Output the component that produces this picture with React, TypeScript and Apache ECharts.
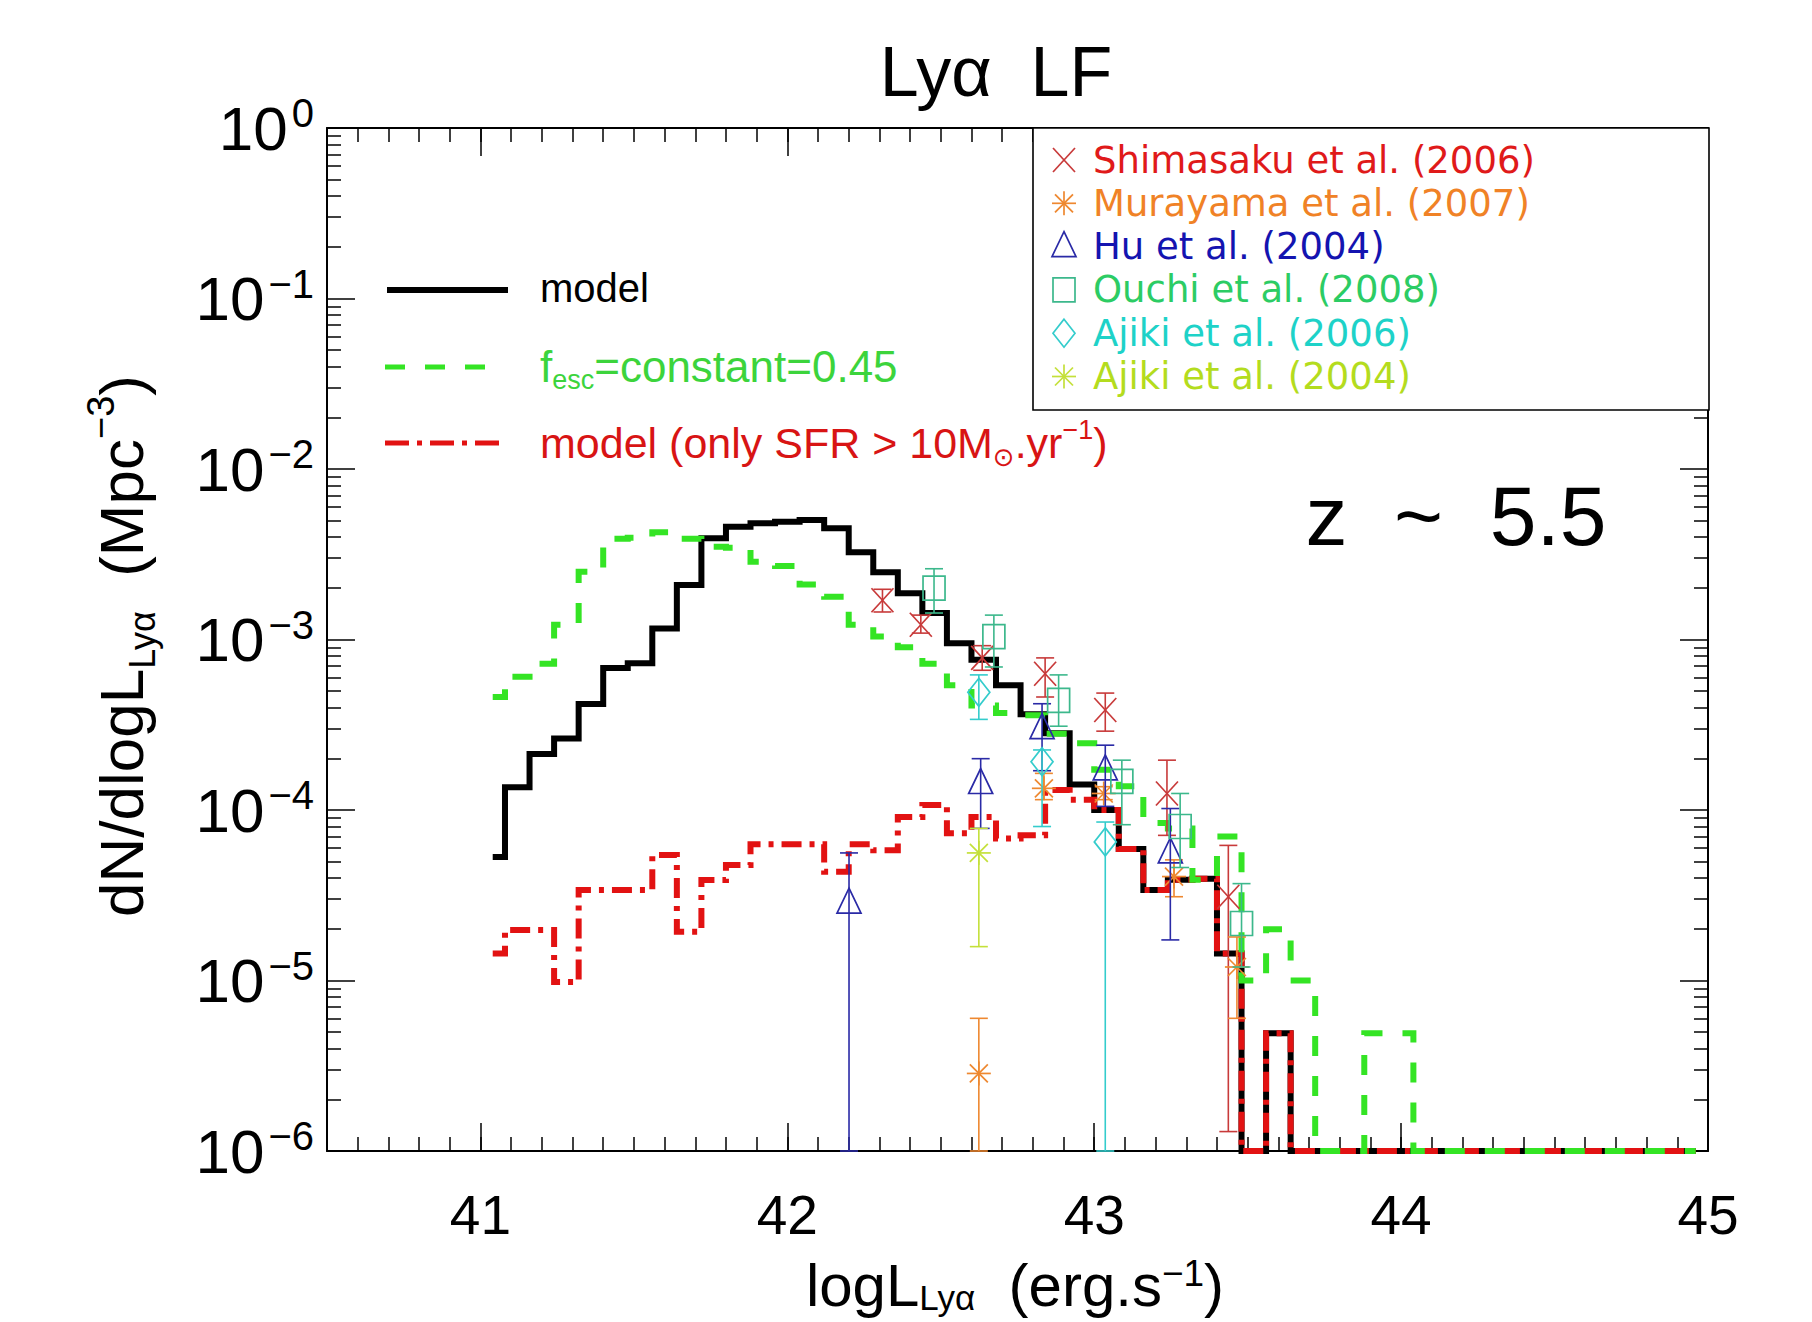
import React, { useEffect, useRef } from "react";
import * as echarts from "echarts";

const FONT = "'Liberation Sans', 'DejaVu Sans', sans-serif";
const FONT_LEG = "'DejaVu Sans', 'Liberation Sans', sans-serif";
const W = 1812;
const H = 1322;

// bin centres (log L_Lya) of the model luminosity functions
const logL = [41.04, 41.12, 41.20, 41.28, 41.36, 41.44, 41.52, 41.60, 41.68, 41.76,
  41.84, 41.92, 42.00, 42.08, 42.16, 42.24, 42.32, 42.40, 42.48, 42.56,
  42.64, 42.72, 42.80, 42.88, 42.96, 43.04, 43.12, 43.20, 43.28, 43.36,
  43.44, 43.52, 43.60, 43.68, 43.76, 43.84, 43.92, 44.00, 44.08, 44.16,
  44.24, 44.32, 44.40, 44.48, 44.56, 44.64, 44.72, 44.80, 44.88, 44.96];

// model (black solid)
const modelLF = [5.3e-5, 1.36e-4, 2.13e-4, 2.63e-4, 4.18e-4, 6.8e-4, 7.25e-4, 1.16e-3, 2.09e-3, 3.92e-3,
  4.59e-3, 4.8e-3, 4.91e-3, 5.02e-3, 4.49e-3, 3.25e-3, 2.48e-3, 1.87e-3, 1.43e-3, 9.5e-4,
  7.6e-4, 5.4e-4, 3.65e-4, 2.82e-4, 1.41e-4, 1.0e-4, 5.9e-5, 3.4e-5, 3.9e-5, 3.95e-5,
  1.44e-5, 1e-6, 4.9e-6, 1e-6, 1e-6, 1e-6, 1e-6, 1e-6, 1e-6, 1e-6,
  1e-6, 1e-6, 1e-6, 1e-6, 1e-6, 1e-6, 1e-6, 1e-6, 1e-6, 1e-6];

// f_esc = constant = 0.45 (green dashed)
const fescLF = [4.6e-4, 6.05e-4, 7.2e-4, 1.22e-3, 2.5e-3, 3.9e-3, 3.95e-3, 4.25e-3, 3.9e-3, 3.5e-3,
  3.45e-3, 2.86e-3, 2.7e-3, 2.1e-3, 1.78e-3, 1.22e-3, 1.04e-3, 9.0e-4, 7.2e-4, 5.4e-4,
  4.1e-4, 3.7e-4, 3.6e-4, 2.8e-4, 2.46e-4, 1.72e-4, 1.38e-4, 8.4e-5, 7.8e-5, 3.9e-5,
  7.0e-5, 1.0e-5, 2.0e-5, 1.0e-5, 1e-6, 1e-6, 4.9e-6, 4.9e-6, 1e-6, 1e-6,
  1e-6, 1e-6, 1e-6, 1e-6, 1e-6, 1e-6, 1e-6, 1e-6, 1e-6, 1e-6];

// model, only SFR > 10 Msun/yr (red dash-dot)
const sfrLF = [1.44e-5, 1.98e-5, 1.98e-5, 9.8e-6, 3.4e-5, 3.4e-5, 3.4e-5, 5.45e-5, 1.93e-5, 3.88e-5,
  4.75e-5, 6.3e-5, 6.3e-5, 6.3e-5, 4.35e-5, 6.3e-5, 5.8e-5, 9.1e-5, 1.07e-4, 7.3e-5,
  9.1e-5, 6.8e-5, 7.1e-5, 1.31e-4, 1.15e-4, 1.0e-4, 5.9e-5, 3.4e-5, 3.9e-5, 3.95e-5,
  1.44e-5, 1e-6, 4.9e-6, 1e-6, 1e-6, 1e-6, 1e-6, 1e-6, 1e-6, 1e-6,
  1e-6, 1e-6, 1e-6, 1e-6, 1e-6, 1e-6, 1e-6, 1e-6, 1e-6, 1e-6];

// observations: [logL, phi, phi_low, phi_high]
const shimasaku2006 = [[42.31, 1.7e-3, 1.45e-3, 1.97e-3], [42.435, 1.22e-3, 1.09e-3, 1.39e-3],
  [42.635, 7.8e-4, 6.6e-4, 9.2e-4], [42.84, 6.3e-4, 4.6e-4, 7.8e-4], [43.036, 3.86e-4, 2.9e-4, 4.85e-4],
  [43.237, 1.25e-4, 7.1e-5, 1.96e-4], [43.437, 3.1e-5, 1.3e-6, 6.2e-5]];
const murayama2007 = [[42.624, 2.85e-6, 1e-6, 6e-6], [42.836, 1.34e-4, 1.15e-4, 1.64e-4],
  [43.031, 1.25e-4, 1.15e-4, 1.37e-4], [43.26, 4.07e-5, 3.1e-5, 5.1e-5], [43.465, 1.2e-5, 6e-6, 1.8e-5]];
const hu2004 = [[42.201, 2.84e-5, 1e-6, 5.6e-5], [42.63, 1.43e-4, 7.8e-5, 2.0e-4],
  [42.83, 3.0e-4, 1.7e-4, 4.2e-4], [43.036, 1.72e-4, 1.05e-4, 2.4e-4], [43.248, 5.6e-5, 1.73e-5, 1.02e-4]];
const ouchi2008 = [[42.478, 2.0e-3, 1.43e-3, 2.6e-3], [42.673, 1.04e-3, 6.9e-4, 1.39e-3],
  [42.884, 4.4e-4, 3.1e-4, 6.2e-4], [43.09, 1.47e-4, 8.2e-5, 1.96e-4], [43.28, 8.0e-5, 4.6e-5, 1.25e-4],
  [43.48, 2.16e-5, 1.2e-5, 3.7e-5]];
const ajiki2006 = [[42.624, 4.9e-4, 3.4e-4, 6.2e-4], [42.83, 1.92e-4, 8e-5, 2.25e-4], [43.036, 6.5e-5, 1e-6, 8.5e-5]];
const ajiki2004 = [[42.624, 5.6e-5, 1.58e-5, 7.8e-5]];

const xMajorTicks = [41, 42, 43, 44, 45];

const obsSets = [
  { name: "Shimasaku et al. (2006)", data: shimasaku2006, kind: "x", mark: "#c83a3a", text: "#e01a1a" },
  { name: "Murayama et al. (2007)", data: murayama2007, kind: "ast", mark: "#ee8830", text: "#f08226" },
  { name: "Hu et al. (2004)", data: hu2004, kind: "tri", mark: "#2a2aa6", text: "#1414b0" },
  { name: "Ouchi et al. (2008)", data: ouchi2008, kind: "sq", mark: "#3cb88c", text: "#2ccc64" },
  { name: "Ajiki et al. (2006)", data: ajiki2006, kind: "dia", mark: "#34cccc", text: "#1ed2c8" },
  { name: "Ajiki et al. (2004)", data: ajiki2004, kind: "ast", mark: "#c4e03a", text: "#b4dc1e" },
];

function minorXTicks() {
  const out: number[] = [];
  for (let i = 0; i <= 45; i++) out.push(Math.round((40.5 + i * 0.1) * 10) / 10);
  return out;
}
function minorYTicks() {
  const out: number[] = [];
  for (let n = -6; n < 0; n++) for (let m = 2; m <= 9; m++) out.push(n + Math.log10(m));
  return out;
}

function marker(kind: string, cx: number, cy: number, color: string): any[] {
  const st = { stroke: color, lineWidth: 1.7, fill: "none" };
  const L = (x1: number, y1: number, x2: number, y2: number) => ({
    type: "line",
    shape: { x1: cx + x1, y1: cy + y1, x2: cx + x2, y2: cy + y2 },
    style: st,
  });
  switch (kind) {
    case "x":
      return [L(-11, -12, 11, 12), L(-11, 12, 11, -12)];
    case "ast":
      return [L(-12, 0, 12, 0), L(0, -12, 0, 12), L(-9, -9, 9, 9), L(-9, 9, 9, -9)];
    case "tri":
      return [{ type: "polygon", shape: { points: [[cx, cy - 15], [cx + 12, cy + 10], [cx - 12, cy + 10]] }, style: st }];
    case "sq":
      return [{ type: "rect", shape: { x: cx - 11, y: cy - 12, width: 22, height: 24 }, style: st }];
    case "dia":
      return [{ type: "polygon", shape: { points: [[cx, cy - 14], [cx + 11, cy], [cx, cy + 14], [cx - 11, cy]] }, style: st }];
  }
  return [];
}

const histSeries = (name: string, vals: number[], color: string, width: number, type: any, z: number) => ({
  type: "line",
  name,
  step: "middle",
  xAxisIndex: 0,
  yAxisIndex: 0,
  data: logL.map((x, i) => [x, Math.log10(vals[i])]),
  symbol: "none",
  silent: true,
  z,
  lineStyle: { color, width, type, cap: "butt", join: "miter" },
});

const errSeries = (set: any) => ({
  type: "custom",
  name: set.name,
  xAxisIndex: 0,
  yAxisIndex: 0,
  z: 6,
  silent: true,
  encode: { x: 0, y: 1 },
  data: set.data.map((p: number[]) => [p[0], Math.log10(p[1]), Math.log10(p[2]), Math.log10(p[3])]),
  renderItem: (params: any, api: any) => {
    const c = api.coord([api.value(0), api.value(1)]);
    const lo = api.coord([api.value(0), api.value(2)]);
    const hi = api.coord([api.value(0), api.value(3)]);
    const cap = 9;
    const st = { stroke: set.mark, lineWidth: 1.6 };
    return {
      type: "group",
      children: [
        { type: "line", shape: { x1: c[0], y1: lo[1], x2: c[0], y2: hi[1] }, style: st },
        { type: "line", shape: { x1: c[0] - cap, y1: lo[1], x2: c[0] + cap, y2: lo[1] }, style: st },
        { type: "line", shape: { x1: c[0] - cap, y1: hi[1], x2: c[0] + cap, y2: hi[1] }, style: st },
        ...marker(set.kind, c[0], c[1], set.mark),
      ],
    };
  },
});

function richTok(size: number, color: string, lh: number, va: string, family = FONT) {
  return { fontSize: size, fontFamily: family, fill: color, color, lineHeight: lh, verticalAlign: va };
}

function buildGraphic() {
  const g: any[] = [];
  // title
  g.push({
    type: "text", x: 996, y: 72,
    style: { text: "Lyα  LF", font: `70px ${FONT}`, fill: "#000", align: "center", verticalAlign: "middle" },
  });
  // z label
  g.push({
    type: "text", x: 1456, y: 516,
    style: { text: "z  ~  5.5", font: `84px ${FONT}`, fill: "#000", align: "center", verticalAlign: "middle" },
  });
  // y-axis title
  g.push({
    type: "text", x: 121, y: 646, rotation: Math.PI / 2,
    style: {
      text: "{a|dN/dlogL}{b|Lyα}{a|  (Mpc}{c|−3}{a|)}",
      align: "center", verticalAlign: "middle", fill: "#000",
      rich: { a: richTok(62, "#000", 78, "middle"), b: richTok(36, "#000", 42, "bottom"), c: richTok(38, "#000", 42, "top") },
    },
  });
  // x-axis title
  g.push({
    type: "text", x: 1015, y: 1285,
    style: {
      text: "{a|logL}{b|Lyα}{a|  (erg.s}{c|−1}{a|)}",
      align: "center", verticalAlign: "middle", fill: "#000",
      rich: { a: richTok(60, "#000", 60, "middle"), b: richTok(35, "#000", 34, "bottom"), c: richTok(37, "#000", 36, "top") },
    },
  });
  // left legend
  g.push({ type: "line", shape: { x1: 387, y1: 290, x2: 508, y2: 290 }, style: { stroke: "#000", lineWidth: 6 } });
  g.push({ type: "text", x: 540, y: 288, style: { text: "model", font: `40px ${FONT}`, fill: "#000", verticalAlign: "middle" } });
  g.push({ type: "line", shape: { x1: 385, y1: 367, x2: 500, y2: 367 }, style: { stroke: "#34e424", lineWidth: 5, lineDash: [20, 20] } });
  g.push({
    type: "text", x: 540, y: 366,
    style: {
      text: "{a|f}{b|esc}{a|=constant=0.45}", verticalAlign: "middle", fill: "#3cd43c",
      rich: { a: richTok(44, "#3cd43c", 54, "middle"), b: richTok(27, "#3cd43c", 30, "bottom") },
    },
  });
  g.push({ type: "line", shape: { x1: 385, y1: 443, x2: 505, y2: 443 }, style: { stroke: "#e21212", lineWidth: 5, lineDash: [24, 8, 5, 8] } });
  g.push({
    type: "text", x: 540, y: 443,
    style: {
      text: "{a|model (only SFR > 10M}{b|⊙}{a|.yr}{c|−1}{a|)}", verticalAlign: "middle", fill: "#d81414",
      rich: { a: richTok(43, "#d81414", 54, "middle"), b: richTok(26, "#d81414", 30, "bottom"), c: richTok(27, "#d81414", 28, "top") },
    },
  });
  // right legend box
  g.push({ type: "rect", shape: { x: 1033, y: 128, width: 676, height: 282 }, style: { stroke: "#000", lineWidth: 1.6, fill: "#fff" }, z: 50 });
  obsSets.forEach((s, i) => {
    const cy = 160 + i * 43.3;
    marker(s.kind, 1064, cy, s.mark).forEach((m) => g.push({ ...m, z: 51 }));
    g.push({
      type: "text", x: 1093, y: cy, z: 51,
      style: { text: s.name, font: `37px ${FONT_LEG}`, fill: s.text, verticalAlign: "middle" },
    });
  });
  return g;
}

function buildOption() {
  const axisLineStyle = { color: "#000", width: 2 };
  const tickStyle = { color: "#000", width: 1.5 };
  const baseX = { type: "value", min: 40.5, max: 45, splitLine: { show: false }, gridIndex: 0 };
  const baseY = { type: "value", min: -6, max: 0, splitLine: { show: false }, gridIndex: 0 };
  return {
    animation: false,
    backgroundColor: "#fff",
    grid: { left: 327, right: 104, top: 128, bottom: 171, containLabel: false, outerBoundsMode: "none" },
    xAxis: [
      {
        ...baseX, position: "bottom",
        axisLine: { show: true, onZero: false, lineStyle: axisLineStyle },
        axisTick: { show: true, inside: true, length: 28, customValues: xMajorTicks, lineStyle: tickStyle },
        axisLabel: { show: true, customValues: xMajorTicks, fontSize: 55, lineHeight: 54, fontFamily: FONT, color: "#000", margin: 37 },
      },
      {
        ...baseX, position: "bottom",
        axisLine: { show: false, onZero: false },
        axisTick: { show: true, inside: true, length: 14, customValues: minorXTicks(), lineStyle: tickStyle },
        axisLabel: { show: false },
      },
      {
        ...baseX, position: "top",
        axisLine: { show: true, onZero: false, lineStyle: axisLineStyle },
        axisTick: { show: true, inside: true, length: 28, customValues: xMajorTicks, lineStyle: tickStyle },
        axisLabel: { show: false },
      },
      {
        ...baseX, position: "top",
        axisLine: { show: false, onZero: false },
        axisTick: { show: true, inside: true, length: 14, customValues: minorXTicks(), lineStyle: tickStyle },
        axisLabel: { show: false },
      },
    ],
    yAxis: [
      {
        ...baseY, position: "left", interval: 1,
        axisLine: { show: true, onZero: false, lineStyle: axisLineStyle },
        axisTick: { show: true, inside: true, length: 28, lineStyle: tickStyle },
        axisLabel: {
          show: true, margin: 13,
          formatter: (v: number) => {
            const e = Math.round(v);
            return `{b|10}{s|${e === 0 ? "0" : "−" + -e}}`;
          },
          rich: {
            b: { fontSize: 62, fontFamily: FONT, color: "#000", lineHeight: 70, verticalAlign: "middle", padding: [0, 4, 0, 0] },
            s: { fontSize: 40, fontFamily: FONT, color: "#000", lineHeight: 44, verticalAlign: "top" },
          },
        },
      },
      {
        ...baseY, position: "left",
        axisLine: { show: false, onZero: false },
        axisTick: { show: true, inside: true, length: 14, customValues: minorYTicks(), lineStyle: tickStyle },
        axisLabel: { show: false },
      },
      {
        ...baseY, position: "right", interval: 1,
        axisLine: { show: true, onZero: false, lineStyle: axisLineStyle },
        axisTick: { show: true, inside: true, length: 28, lineStyle: tickStyle },
        axisLabel: { show: false },
      },
      {
        ...baseY, position: "right",
        axisLine: { show: false, onZero: false },
        axisTick: { show: true, inside: true, length: 14, customValues: minorYTicks(), lineStyle: tickStyle },
        axisLabel: { show: false },
      },
    ],
    series: [
      histSeries("model", modelLF, "#000000", 6, "solid", 2),
      histSeries("model (only SFR > 10 Msun/yr)", sfrLF, "#e21212", 6, [20, 8, 5, 8], 3),
      histSeries("f_esc=constant=0.45", fescLF, "#34e424", 6, [20, 20], 4),
      ...obsSets.map((s) => errSeries(s)),
    ],
    graphic: { elements: buildGraphic() },
  };
}

export default function App() {
  const ref = useRef<HTMLDivElement>(null);
  useEffect(() => {
    if (!ref.current) return;
    const chart = echarts.init(ref.current, undefined, { renderer: "svg", width: W, height: H });
    chart.setOption(buildOption() as any);
    return () => chart.dispose();
  }, []);
  return (
    <div
      ref={ref}
      style={{ position: "fixed", left: 0, top: 0, width: W, height: H, background: "#fff" }}
    />
  );
}
